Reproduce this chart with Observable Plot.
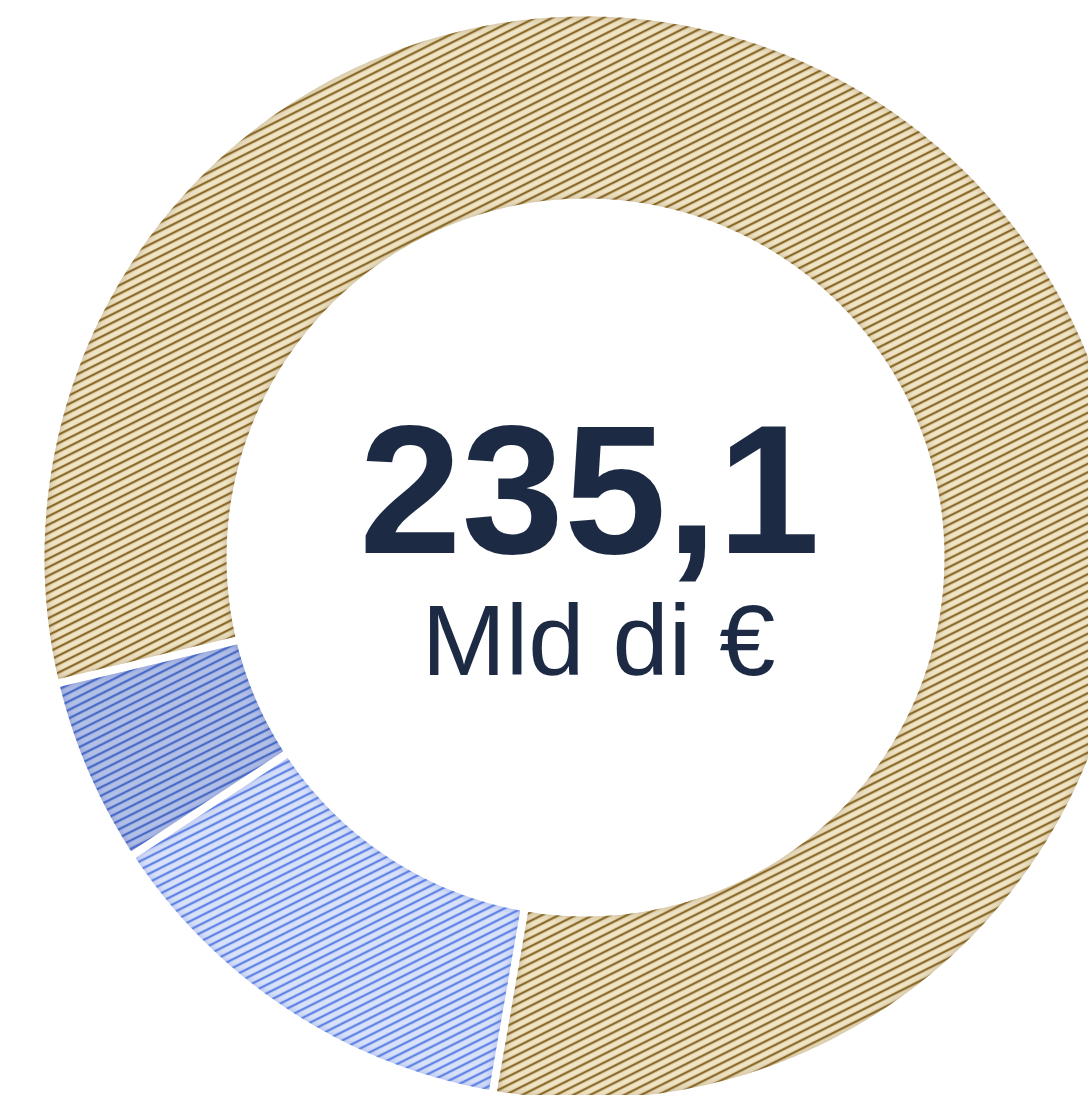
<!DOCTYPE html>
<html>
<head>
<meta charset="utf-8">
<script src="https://cdn.jsdelivr.net/npm/d3@7"></script>
<script src="https://cdn.jsdelivr.net/npm/@observablehq/plot@0.6"></script>
<style>
  html, body { margin: 0; padding: 0; background: #ffffff; }
  #chart svg { display: block; }
</style>
</head>
<body>
<div id="chart"></div>
<script>
// ---- Data ----
const categories = ["Dispositivo per la Ripresa e la Resilienza", "Fondo complementare", "REACT-EU"];
const values = [191.5, 30.6, 13.0];
const totalLabel = "235,1";
const unitLabel = "Mld di €";

// ---- Styles ----
const fillColors = ["#f0e4c5", "#d9e2f9", "#b3c0e6"];
const lineColors = ["#8a6a2a", "#5f83e4", "#4a6ac7"];
const textColor = "#1c2a44";
const fontFamily = "'Liberation Sans', Arial, Helvetica, sans-serif";

// ---- Layout ----
const W = 1088, H = 1095;
const cx = 585, cy = 557;      // ring centre (px)
const R = 541;                 // outer radius (px)
const innerR = 359 / R;        // inner radius (relative)
const gapPx = 8;               // white gap between slices
const startDeg = 256.6;        // where the first slice starts, clockwise from 12 o'clock

// Build slice outlines from the values (pie layout)
const pie = d3.pie().sort(null)
  .startAngle(startDeg * Math.PI / 180)
  .endAngle(startDeg * Math.PI / 180 + 2 * Math.PI);
const arcs = pie(values);

function ringPoints(a, i) {
  const pts = [];
  const half = gapPx / 2 / R;
  const pO = half / 1, pI = half / innerR;
  const span = a.endAngle - a.startAngle;
  const n = Math.max(8, Math.ceil(span * 180 / Math.PI * 3));
  for (let k = 0; k <= n; k++) {
    const t = a.startAngle + pO + (span - 2 * pO) * k / n;
    pts.push({slice: categories[i], x: Math.sin(t), y: -Math.cos(t)});
  }
  for (let k = n; k >= 0; k--) {
    const t = a.startAngle + pI + (span - 2 * pI) * k / n;
    pts.push({slice: categories[i], x: innerR * Math.sin(t), y: -innerR * Math.cos(t)});
  }
  return pts;
}

const sliceMarks = arcs.map((a, i) =>
  Plot.line(ringPoints(a, i), {
    x: "x", y: "y", z: "slice",
    curve: "linear-closed",
    fill: `url(#pat-${i})`,
    stroke: "none"
  })
);

const svg = Plot.plot({
  width: W,
  height: H,
  margin: 0,
  x: {axis: null, domain: [-cx / R, (W - cx) / R], range: [0, W]},
  y: {axis: null, domain: [-cy / R, (H - cy) / R], range: [0, H]},
  marks: [
    ...sliceMarks,
    Plot.text([totalLabel], {
      x: 0, y: 0, text: d => d, dx: 4, dy: -5,
      lineAnchor: "bottom", textAnchor: "middle",
      fontSize: 184, fontWeight: "bold", fontFamily, fill: textColor
    }),
    Plot.text([unitLabel], {
      x: 0, y: 0, text: d => d, dx: 13, dy: 117,
      lineAnchor: "bottom", textAnchor: "middle",
      fontSize: 101, fontWeight: "normal", fontFamily, fill: textColor
    })
  ]
});

// ---- Patterns & soft inner edge ----
const defs = d3.select(svg).insert("defs", ":first-child");
fillColors.forEach((fc, i) => {
  const p = defs.append("pattern")
    .attr("id", `pat-${i}`)
    .attr("patternUnits", "userSpaceOnUse")
    .attr("width", 16).attr("height", 7.6)
    .attr("patternTransform", "rotate(-26.57)");
  p.append("rect").attr("width", 16).attr("height", 7.6).attr("fill", fc);
  p.append("rect").attr("x", 0).attr("y", 2.7).attr("width", 16).attr("height", 2.3)
    .attr("fill", lineColors[i]);

  const f = defs.append("filter").attr("id", `inset-${i}`)
    .attr("x", "-5%").attr("y", "-5%").attr("width", "110%").attr("height", "110%");
  f.append("feGaussianBlur").attr("in", "SourceAlpha").attr("stdDeviation", 4).attr("result", "blur");
  f.append("feComposite").attr("in", "SourceAlpha").attr("in2", "blur").attr("operator", "out").attr("result", "edge");
  f.append("feFlood").attr("flood-color", lineColors[i]).attr("flood-opacity", 0.6).attr("result", "flood");
  f.append("feComposite").attr("in", "flood").attr("in2", "edge").attr("operator", "in").attr("result", "shadow");
  const m = f.append("feMerge");
  m.append("feMergeNode").attr("in", "SourceGraphic");
  m.append("feMergeNode").attr("in", "shadow");
});
d3.select(svg).selectAll("g[aria-label='line']").each(function(_, i) {
  d3.select(this).attr("filter", `url(#inset-${i})`);
});

document.getElementById("chart").appendChild(svg);
</script>
</body>
</html>
